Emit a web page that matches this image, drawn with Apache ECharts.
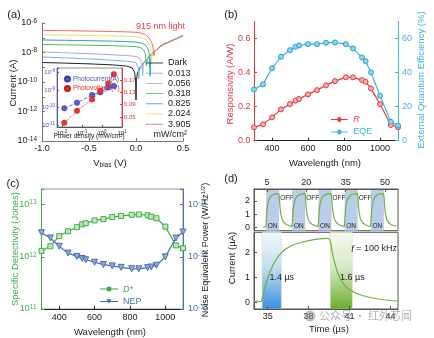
<!DOCTYPE html>
<html><head><meta charset="utf-8">
<script src="https://cdn.jsdelivr.net/npm/echarts@6.0.0/dist/echarts.min.js"></script>
<style>html,body{margin:0;padding:0;background:#fff;}#chart{width:434px;height:338px;}</style>
</head><body><div id="chart"></div>
<script>
const FONT = '"Liberation Sans", Arial, Helvetica, sans-serif';

// ---------- (a) I–V curves, 915 nm light: [bias (V), |current| (A)]
const ivDark  = [[-1,2.1e-9],[-0.75,1.9e-9],[-0.5,1.7e-9],[-0.25,1.45e-9],[-0.1,1.2e-9],[-0.04,9e-10],[-0.015,4.5e-10],[-0.004,1.2e-10],[0,6e-12],[0.004,1.2e-10],[0.015,4e-10],[0.05,1.1e-9],[0.1,2.7e-9],[0.15,6.2e-9],[0.2,1.25e-8],[0.25,2.4e-8],[0.3,3.8e-8],[0.35,5.2e-8],[0.4,7.1e-8],[0.45,1.0e-7],[0.5,1.4e-7]];
const iv0013  = [[-1,5.0e-9],[-0.75,4.3e-9],[-0.5,3.7e-9],[-0.25,3.0e-9],[-0.1,2.6e-9],[0,2.1e-9],[0.015,1.6e-9],[0.025,9e-10],[0.03,1.6e-10],[0.036,6e-10],[0.05,1.1e-9],[0.1,2.7e-9],[0.15,6.2e-9],[0.2,1.25e-8],[0.25,2.4e-8],[0.3,3.8e-8],[0.35,5.2e-8],[0.4,7.1e-8],[0.45,1.0e-7],[0.5,1.4e-7]];
const iv0056  = [[-1,1.1e-8],[-0.75,9.5e-9],[-0.5,8.3e-9],[-0.25,7.0e-9],[-0.1,6.2e-9],[0,5.4e-9],[0.03,4.5e-9],[0.05,3.3e-9],[0.062,2.0e-9],[0.07,2.5e-10],[0.078,1.5e-9],[0.1,2.7e-9],[0.15,6.2e-9],[0.2,1.25e-8],[0.25,2.4e-8],[0.3,3.8e-8],[0.35,5.2e-8],[0.4,7.1e-8],[0.45,1.0e-7],[0.5,1.4e-7]];
const iv0318  = [[-1,3.5e-8],[-0.75,3.3e-8],[-0.5,3.1e-8],[-0.25,2.9e-8],[-0.1,2.7e-8],[0,2.5e-8],[0.05,2.1e-8],[0.08,1.5e-8],[0.1,8e-9],[0.11,1.2e-9],[0.12,3.5e-9],[0.15,6.2e-9],[0.2,1.25e-8],[0.25,2.4e-8],[0.3,3.8e-8],[0.35,5.2e-8],[0.4,7.1e-8],[0.45,1.0e-7],[0.5,1.4e-7]];
const iv0825  = [[-1,7.1e-8],[-0.75,6.7e-8],[-0.5,6.3e-8],[-0.25,5.9e-8],[-0.1,5.5e-8],[0,5.1e-8],[0.06,4.3e-8],[0.1,3.2e-8],[0.125,2.0e-8],[0.14,9e-9],[0.15,2.5e-10],[0.158,4e-9],[0.175,9e-9],[0.2,1.25e-8],[0.25,2.4e-8],[0.3,3.8e-8],[0.35,5.2e-8],[0.4,7.1e-8],[0.45,1.0e-7],[0.5,1.4e-7]];
const iv2024  = [[-1,1.58e-7],[-0.75,1.5e-7],[-0.5,1.42e-7],[-0.25,1.33e-7],[-0.1,1.26e-7],[0,1.18e-7],[0.06,1.0e-7],[0.1,7.8e-8],[0.13,4.8e-8],[0.15,2.6e-8],[0.16,1.2e-8],[0.167,3.5e-9],[0.175,8e-9],[0.2,1.26e-8],[0.25,2.4e-8],[0.3,3.8e-8],[0.35,5.2e-8],[0.4,7.1e-8],[0.45,1.0e-7],[0.5,1.4e-7]];
const iv3905  = [[-1,3.16e-7],[-0.75,3.0e-7],[-0.5,2.85e-7],[-0.25,2.65e-7],[-0.1,2.5e-7],[0,2.35e-7],[0.06,2.0e-7],[0.1,1.6e-7],[0.14,9.5e-8],[0.165,5e-8],[0.18,2.5e-8],[0.19,6e-9],[0.2,1.15e-8],[0.25,2.4e-8],[0.3,3.8e-8],[0.35,5.2e-8],[0.4,7.1e-8],[0.45,1.0e-7],[0.5,1.4e-7]];
const ivNames = ['Dark','0.013','0.056','0.318','0.825','2.024','3.905'];
const ivData  = [ivDark, iv0013, iv0056, iv0318, iv0825, iv2024, iv3905];

// ---------- (a) inset
const insetPower        = [0.013, 0.056, 0.318, 0.825, 2.024, 3.905];
const insetPhotocurrent = [9.1e-11, 1.9e-10, 5.2e-10, 7.4e-10, 1.4e-9, 1.7e-9];
const insetPhotovoltage = [0.031, 0.070, 0.107, 0.135, 0.159, 0.189];

// ---------- (b) / (c) spectra
const wavelengths  = [300,350,400,450,500,530,550,600,650,700,750,810,850,900,920,950,1000,1060,1100];
const responsivity = [0.079,0.096,0.137,0.184,0.215,0.235,0.245,0.272,0.297,0.325,0.350,0.372,0.372,0.356,0.346,0.307,0.215,0.092,0.079];
const eqe          = [30.1,33.1,42.5,49.3,53.2,55.1,55.9,56.7,56.7,57.5,57.7,56.7,54.2,48.9,46.7,40.1,26.4,11.1,8.9];
const detectivity  = [1.3e12,1.6e12,2.5e12,3.1e12,3.7e12,4.2e12,4.4e12,5.0e12,5.3e12,5.8e12,6.1e12,6.4e12,6.5e12,6.3e12,5.9e12,5.5e12,3.8e12,1.66e12,1.47e12];
const nepValues    = [2.9e-12,2.3e-12,1.6e-12,1.18e-12,1.02e-12,9.3e-13,8.8e-13,7.9e-13,7.1e-13,6.7e-13,6.3e-13,5.9e-13,5.9e-13,6.2e-13,6.4e-13,6.9e-13,1.0e-12,2.3e-12,3.0e-12];

// ---------- (d) transient response: [time (µs), current (µA)]
const onIntervals  = [[4.6,9.6],[14.6,19.6],[24.6,29.6],[34.6,39.6],[44.6,49.6]];
const offIntervals = [[9.6,14.6],[19.6,24.6],[29.6,34.6],[39.6,44.6]];
const pulseTrace = [[3.5,0.03],[4.5,0.03],
 [4.7,0.5],[4.9,1.2],[5.2,1.7],[5.6,2.05],[6.2,2.3],[7.0,2.45],[8.0,2.52],[9.5,2.55],[9.7,2.2],[9.9,1.6],[10.2,1.05],[10.7,0.62],[11.5,0.35],[12.5,0.2],[13.5,0.12],[14.5,0.08],
 [14.7,0.5],[14.9,1.2],[15.2,1.72],[15.6,2.05],[16.2,2.3],[17.0,2.44],[18.0,2.52],[19.5,2.56],[19.7,2.2],[19.9,1.6],[20.2,1.05],[20.7,0.6],[21.5,0.34],[22.5,0.2],[23.5,0.12],[24.5,0.08],
 [24.7,0.5],[24.9,1.22],[25.2,1.72],[25.6,2.07],[26.2,2.31],[27.0,2.45],[28.0,2.53],[29.5,2.56],[29.7,2.2],[29.9,1.58],[30.2,1.05],[30.7,0.62],[31.5,0.35],[32.5,0.2],[33.5,0.12],[34.5,0.08],
 [34.7,0.52],[34.9,1.2],[35.2,1.7],[35.6,2.05],[36.2,2.3],[37.0,2.45],[38.0,2.52],[39.5,2.55],[39.7,2.2],[39.9,1.6],[40.2,1.05],[40.7,0.6],[41.5,0.35],[42.5,0.2],[43.5,0.12],[44.5,0.08],
 [44.7,0.5],[44.9,1.2],[45.2,1.72],[45.6,2.06],[46.2,2.3],[47.0,2.45],[48.0,2.52],[49.5,2.55],[49.7,2.2],[49.9,1.6],[50.2,1.05],[50.7,0.6],[51.5,0.34],[52.5,0.2],[53.5,0.13],[54.2,0.1]];
const riseFallTrace = [[34.0,0.03],[34.2,0.05],[34.4,0.02],[34.55,0.04],[34.65,0.22],[34.8,0.6],[35.0,0.95],[35.2,1.25],[35.4,1.5],[35.7,1.78],[36.0,1.98],[36.3,2.12],[36.7,2.25],[37.0,2.32],[37.5,2.4],[38.0,2.47],[38.5,2.52],[39.0,2.55],[39.4,2.56],[39.55,2.52],[39.65,2.3],[39.75,1.95],[39.9,1.6],[40.1,1.22],[40.3,0.95],[40.6,0.7],[41.0,0.5],[41.5,0.35],[42.0,0.26],[42.5,0.19],[43.0,0.14],[43.5,0.1],[44.0,0.07],[44.5,0.05]];
const riseWindow = [34.6, 36.0];
const fallWindow = [39.6, 41.2];

// ---------- tick labels
const ticksInsetV = [0.05, 0.09, 0.13, 0.17];
const ticksWl     = [400, 600, 800, 1000];
const ticksR      = [0, 0.2, 0.4, 0.6];
const ticksEQE    = [0, 20, 40, 60];
const ticksPulseT = [5, 20, 35, 50];
const ticksZoomT  = [35, 38, 41, 44];
const ticksCur    = [0, 1, 2];

// ---------- styles
const C = {ink:'#222', red:'#e8383d', cyan:'#3db3e0', green:'#3fae49', blue:'#4a6fb5', purple:'#5252bd', trace:'#6ab43c'};
const ivColors = ['#222222','#78b4e0','#a9a4e0','#58b858','#24aabf','#f3dc6a','#f26a66'];
const ICON_LINE = 'path://M0,0H20V1H0Z';
const ICON_CIRCLE = 'path://M0,2H7.5A2.5,2.5,0,0,1,12.5,2H20V3H12.5A2.5,2.5,0,0,1,7.5,3H0Z M12.5,2.5A2.5,2.5,0,1,1,7.5,2.5A2.5,2.5,0,1,1,12.5,2.5Z';
const ICON_SQUARE = 'path://M0,2H20V3H0Z M7.5,0H12.5V5H7.5Z';
const ICON_TRI = 'path://M0,2H20V3H0Z M7.2,0H12.8L10,5Z';

function richFor(color, fs, sfs) {
  return { b:{fontSize:fs, fontFamily:FONT, color:color, lineHeight:fs+2},
           s:{fontSize:sfs, fontFamily:FONT, color:color, lineHeight:4, verticalAlign:'top'} };
}
function pow10(evenOnly) {
  return function (v) {
    const l = Math.log10(v), e = Math.round(l);
    if (Math.abs(l - e) > 1e-6) return '';
    if (evenOnly && e % 2 !== 0) return '';
    return '{b|10}{s|' + e + '}';
  };
}
function ax(color, o) {
  const base = {
    axisLine:{show:true, onZero:false, lineStyle:{color:color, width:1}},
    axisTick:{show:true, inside:true, length:3, lineStyle:{color:color, width:1}},
    axisLabel:{fontSize:9, fontFamily:FONT, color:color, margin:4},
    splitLine:{show:false}, z:3
  };
  const r = Object.assign({}, base, o);
  if (o.axisLabel) r.axisLabel = Object.assign({}, base.axisLabel, o.axisLabel);
  if (o.axisTick) r.axisTick = Object.assign({}, base.axisTick, o.axisTick);
  return r;
}
function zip(xs, ys) { return xs.map((x, i) => [x, ys[i]]); }
const plain = v => String(v);

const series = [];
ivData.forEach((d, i) => series.push({
  type:'line', name:ivNames[i], xAxisIndex:0, yAxisIndex:0, data:d, symbol:'none',
  lineStyle:{width:1, color:ivColors[i]}, itemStyle:{color:ivColors[i]}, z:2+i*0.01
}));
series.push({type:'line', name:'Photocurrent(A)', xAxisIndex:1, yAxisIndex:1, data:zip(insetPower, insetPhotocurrent),
  symbol:'circle', symbolSize:5.5, itemStyle:{color:'#5a5ad2', borderColor:'#3a3aa8', borderWidth:0.5},
  lineStyle:{type:'dashed', width:0.9, color:'#5a5ad2'}, z:5});
series.push({type:'line', name:'Photovoltage(V)', xAxisIndex:1, yAxisIndex:2, data:zip(insetPower, insetPhotovoltage),
  symbol:'circle', symbolSize:5.5, itemStyle:{color:'#ee3434', borderColor:'#b81c1c', borderWidth:0.5},
  lineStyle:{type:'dotted', width:1, color:'#ee3434'}, z:5});
series.push({type:'line', name:'R', xAxisIndex:2, yAxisIndex:3, data:zip(wavelengths, responsivity),
  symbol:'circle', symbolSize:5, itemStyle:{color:'#f6b0b0', borderColor:C.red, borderWidth:1},
  lineStyle:{width:1.2, color:C.red}});
series.push({type:'line', name:'EQE', xAxisIndex:2, yAxisIndex:4, data:zip(wavelengths, eqe),
  symbol:'circle', symbolSize:5, itemStyle:{color:'#8fd4f0', borderColor:'#22a3d6', borderWidth:1},
  lineStyle:{width:1.2, color:C.cyan}});
series.push({type:'line', name:'D*', xAxisIndex:3, yAxisIndex:5, data:zip(wavelengths, detectivity),
  symbol:'rect', symbolSize:5, itemStyle:{color:'#bfe8bf', borderColor:C.green, borderWidth:1},
  lineStyle:{width:1.2, color:C.green}});
series.push({type:'line', name:'NEP', xAxisIndex:3, yAxisIndex:6, data:zip(wavelengths, nepValues),
  symbol:'triangle', symbolRotate:180, symbolSize:6, itemStyle:{color:'#90a9dc', borderColor:C.blue, borderWidth:1},
  lineStyle:{width:1.2, color:C.blue}});

const lblSmall = {show:true, fontSize:6.5, fontFamily:FONT, color:'#222'};
const pulseAreas = onIntervals.map(iv => [
  {xAxis:iv[0], itemStyle:{color:'#b9cde9'}, label:Object.assign({}, lblSmall, {position:'insideBottom', distance:1, formatter:'ON'})},
  {xAxis:iv[1]}]).concat(offIntervals.map(iv => [
  {xAxis:iv[0], itemStyle:{color:'rgba(0,0,0,0)'}, label:Object.assign({}, lblSmall, {position:'insideTopLeft', distance:2, offset:[-1,4], formatter:'OFF'})},
  {xAxis:iv[1]}]));
series.push({type:'line', name:'pulse', xAxisIndex:4, yAxisIndex:7, data:pulseTrace, symbol:'none',
  lineStyle:{width:1.2, color:C.trace}, markArea:{silent:true, data:pulseAreas}});

function vgrad(a, b, c) { return {type:'linear', x:0, y:0, x2:0, y2:1, colorStops:[{offset:0,color:a},{offset:0.45,color:b},{offset:1,color:c}]}; }
series.push({type:'line', name:'zoom', xAxisIndex:5, yAxisIndex:8, data:riseFallTrace, symbol:'none',
  lineStyle:{width:1.2, color:C.trace},
  markArea:{silent:true, data:[
    [{xAxis:riseWindow[0], itemStyle:{color:vgrad('#f3f8fd','#c6def3','#3a90db'), borderColor:'#a9d2c8', borderWidth:0.8, borderType:'dotted'},
      label:{show:true, position:'inside', offset:[10,7], formatter:'1.4 µs', fontSize:9, fontFamily:FONT, color:'#222'}}, {xAxis:riseWindow[1]}],
    [{xAxis:fallWindow[0], itemStyle:{color:vgrad('#f6faf1','#d8eac6','#6aac2c'), borderColor:'#b6d98f', borderWidth:0.8, borderType:'dotted'},
      label:{show:true, position:'inside', offset:[11,7], formatter:'1.6 µs', fontSize:9, fontFamily:FONT, color:'#222'}}, {xAxis:fallWindow[1]}]
  ]}});

function T(text, x, y, o) {
  o = o || {};
  return {type:'text', x:x, y:y, rotation:o.rot || 0, z:100,
    style:Object.assign({text:text, fontSize:o.fs || 9, fontFamily:FONT, fill:o.color || C.ink,
      align:o.align || 'center', verticalAlign:'middle'}, o.style || {})};
}
const subRich = {v:{fontSize:9.5, fontFamily:FONT, fill:C.ink, color:C.ink, lineHeight:11}, d:{fontSize:6.5, fontFamily:FONT, fill:C.ink, color:C.ink, lineHeight:6, verticalAlign:'bottom'}};
const nepRich = {v:{fontSize:9, fontFamily:FONT, color:C.blue, lineHeight:11}, s:{fontSize:6, fontFamily:FONT, color:C.blue, lineHeight:4, verticalAlign:'top'}};

const option = {
  animation:false, backgroundColor:'#fff', textStyle:{fontFamily:FONT},
  grid:[
    {left:42, top:23, width:141, height:118, outerBoundsMode:'none'},
    {left:57, top:68, width:65, height:59, show:true, backgroundColor:'#fff', borderColor:'#777', borderWidth:0.8, outerBoundsMode:'none'},
    {left:254, top:21.5, width:144, height:119.2, outerBoundsMode:'none'},
    {left:41.5, top:189, width:141.5, height:120, show:true, borderColor:'#9a9a9a', borderWidth:1, outerBoundsMode:'none'},
    {left:254, top:189, width:144, height:41.7, show:true, borderColor:'#555', borderWidth:1, outerBoundsMode:'none'},
    {left:254, top:232.3, width:144, height:76.7, show:true, borderColor:'#555', borderWidth:1, outerBoundsMode:'none'}
  ],
  xAxis:[
    ax('#777', {gridIndex:0, type:'value', min:-1, max:0.5, interval:0.5, axisLabel:{color:C.ink, margin:3, formatter:v => v.toFixed(1)}}),
    ax('#555', {gridIndex:1, type:'log', min:0.0056, max:10, axisTick:{length:2}, axisLabel:{color:C.ink, margin:2, formatter:pow10(false), rich:richFor(C.ink,6,4.5)}}),
    ax('#222', {gridIndex:2, type:'value', min:300, max:1100, axisLabel:{color:C.ink, margin:3, customValues:ticksWl, formatter:plain}, axisTick:{customValues:ticksWl}}),
    ax('#222', {gridIndex:3, type:'value', min:300, max:1100, axisLabel:{color:C.ink, margin:4, customValues:ticksWl, formatter:plain}, axisTick:{customValues:ticksWl}}),
    ax('#555', {gridIndex:4, type:'value', min:0, max:55, position:'top', axisLabel:{color:C.ink, margin:2, customValues:ticksPulseT, formatter:plain}, axisTick:{customValues:ticksPulseT}}),
    ax('#555', {gridIndex:5, type:'value', min:34, max:44.55, axisLabel:{color:C.ink, margin:3.5, customValues:ticksZoomT, formatter:plain}, axisTick:{customValues:ticksZoomT}})
  ],
  yAxis:[
    ax('#777', {gridIndex:0, type:'log', min:1e-14, max:1e-6, axisLabel:{color:C.ink, margin:5, formatter:pow10(true), rich:richFor(C.ink,9,6.5)}}),
    ax(C.purple, {gridIndex:1, type:'log', min:7.94e-12, max:1.78e-8, axisTick:{length:2}, axisLabel:{margin:2, formatter:pow10(false), rich:richFor(C.purple,6,4.5)}}),
    ax('#e53030', {gridIndex:1, type:'value', position:'right', min:0.0176, max:0.209, axisTick:{length:2, customValues:ticksInsetV}, axisLabel:{fontSize:6, margin:2, customValues:ticksInsetV, formatter:v => v.toFixed(2)}}),
    ax(C.red, {gridIndex:2, type:'value', min:0, max:0.7, axisTick:{customValues:ticksR}, axisLabel:{margin:3.5, customValues:ticksR, formatter:v => v.toFixed(1)}}),
    ax(C.cyan, {gridIndex:2, type:'value', position:'right', min:0, max:70, axisTick:{customValues:ticksEQE}, axisLabel:{margin:4, customValues:ticksEQE, formatter:plain}}),
    ax(C.green, {gridIndex:3, type:'log', min:1e11, max:2e13, axisLabel:{margin:5, formatter:pow10(false), rich:richFor(C.green,9,6.5)}}),
    ax(C.blue, {gridIndex:3, type:'log', position:'right', min:1e-13, max:2e-11, axisLabel:{margin:5, formatter:pow10(false), rich:richFor(C.blue,9,6.5)}}),
    ax('#555', {gridIndex:4, type:'value', min:-0.25, max:2.9, axisTick:{customValues:ticksCur}, axisLabel:{color:C.ink, margin:4, customValues:ticksCur, formatter:plain}}),
    ax('#555', {gridIndex:5, type:'value', min:-0.27, max:2.8, axisTick:{customValues:ticksCur}, axisLabel:{color:C.ink, margin:4, customValues:ticksCur, formatter:plain}})
  ],
  legend:[
    {data:ivNames, orient:'vertical', left:141, top:53.5, itemWidth:17, itemHeight:1.2, itemGap:1.2, icon:ICON_LINE, selectedMode:false,
      textStyle:{fontSize:9, fontFamily:FONT, color:C.ink}},
    {data:[{name:'Photocurrent(A)', textStyle:{color:C.purple}}, {name:'Photovoltage(V)', textStyle:{color:'#e53030'}}],
      orient:'vertical', left:59, top:70.5, itemWidth:5, itemHeight:5, itemGap:2.5, icon:'circle', selectedMode:false,
      textStyle:{fontSize:6.5, fontFamily:FONT, padding:[0,0,0,-2]}},
    {data:[{name:'R', icon:ICON_CIRCLE, itemStyle:{color:C.red, borderWidth:0}, textStyle:{color:C.red, fontStyle:'italic'}},
           {name:'EQE', icon:ICON_CIRCLE, itemStyle:{color:C.cyan, borderWidth:0}, textStyle:{color:C.cyan}}],
      orient:'vertical', left:326, top:110, itemWidth:18, itemHeight:5, itemGap:3.5, selectedMode:false,
      textStyle:{fontSize:9, fontFamily:FONT}},
    {data:[{name:'D*', icon:ICON_SQUARE, itemStyle:{color:C.green, borderWidth:0}, textStyle:{color:C.green, fontStyle:'italic'}},
           {name:'NEP', icon:ICON_TRI, itemStyle:{color:C.blue, borderWidth:0}, textStyle:{color:C.blue}}],
      orient:'vertical', left:95, top:279.5, itemWidth:18, itemHeight:5, itemGap:3.5, selectedMode:false,
      textStyle:{fontSize:9, fontFamily:FONT}}
  ],
  graphic:[
    T('(a)', 14, 15, {fs:11}), T('(b)', 231, 15, {fs:11}), T('(c)', 13, 184, {fs:11}), T('(d)', 231, 179, {fs:11}),
    T('Current (A)', 13, 83, {rot:Math.PI/2, fs:9.5}),
    T('{v|V}{d|bias}{v| (V)}', 110, 163, {style:{rich:subRich}}),
    T('915 nm light', 185, 27, {color:'#e8414a', align:'right', fs:9}),
    T('mW/cm²', 187, 135, {align:'right', fs:9}),
    T('Power density (mW/cm²)', 89, 136.5, {fs:6.5}),
    T('Responsivity (A/W)', 230, 84, {rot:Math.PI/2, color:C.red, fs:9.5}),
    T('External Quantum Efficiency (%)', 421, 80, {rot:Math.PI/2, color:C.cyan, fs:9.5}),
    T('Wavelength (nm)', 325, 163, {fs:9.5}),
    T('Specific Detectivity (Jones)', 15, 249, {rot:Math.PI/2, color:C.green, fs:9.5}),
    T('{v|Noise Equivalent Power (W/Hz}{s|1/2}{v|)}', 206, 250, {rot:Math.PI/2, style:{rich:nepRich}}),
    T('Wavelength (nm)', 110, 332, {fs:9.5}),
    T('Current (µA)', 232, 258, {rot:Math.PI/2, fs:9.5}),
    T('Time (µs)', 329, 329, {fs:9.5}),
    T('{i|f} = 100 kHz', 397, 249, {align:'right', style:{rich:{i:{fontStyle:'italic', fontSize:9, fontFamily:FONT}}}}),
    {type:'circle', shape:{cx:310, cy:316, r:5.5}, style:{fill:'rgba(140,140,140,0.55)'}, z:100},
    T('公众号 · 红外芯闻', 319, 316, {align:'left', fs:11, color:'rgba(125,125,125,0.6)', style:{fontFamily:'"Noto Sans CJK SC", sans-serif'}})
  ],
  series:series
};

const chart = echarts.init(document.getElementById('chart'), null, {renderer:'canvas'});
chart.setOption(option);
</script>
</body></html>
